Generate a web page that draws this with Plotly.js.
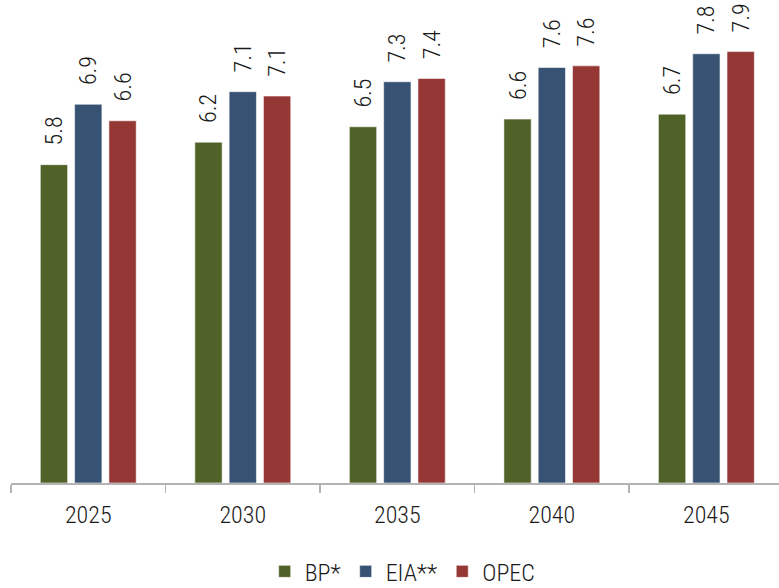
<!DOCTYPE html>
<html>
<head>
<meta charset="utf-8">
<script src="https://cdn.plot.ly/plotly-3.0.1.min.js"></script>
<style>html,body{margin:0;padding:0;background:#fff;}#chart{width:779px;height:588px;}</style>
</head>
<body>
<div id="chart"></div>
<script>
var years = ['2025', '2030', '2035', '2040', '2045'];
var seriesNames = ['BP*', 'EIA**', 'OPEC'];
var bpValues = [5.8, 6.21, 6.49, 6.63, 6.72];
var eiaValues = [6.9, 7.13, 7.31, 7.57, 7.82];
var opecValues = [6.6, 7.05, 7.37, 7.60, 7.86];
var bpLabels = ['5.8', '6.2', '6.5', '6.6', '6.7'];
var eiaLabels = ['6.9', '7.1', '7.3', '7.6', '7.8'];
var opecLabels = ['6.6', '7.1', '7.4', '7.6', '7.9'];

var colors = ['#4F6228', '#375273', '#953735'];
var FONT = 'Roboto Condensed, Roboto, sans-serif';
var FW = 300;
var allValues = [bpValues, eiaValues, opecValues];
var allLabels = [bpLabels, eiaLabels, opecLabels];
var PAD = '\u00a0\u00a0\u00a0';

var traces = allValues.map(function (vals, s) {
  return {
    type: 'bar',
    name: seriesNames[s],
    x: years,
    y: vals,
    text: allLabels[s].map(function (t) { return PAD + t; }),
    textposition: 'outside',
    textangle: -90,
    cliponaxis: false,
    constraintext: 'none',
    outsidetextfont: {family: FONT, size: 24, color: '#1a1a1a', weight: FW},
    marker: {color: colors[s], line: {color: 'rgba(255,255,255,0.55)', width: 1}},
    hoverinfo: 'none'
  };
});

var layout = {
  width: 779,
  height: 588,
  margin: {l: 11, r: 0, t: 0, b: 105, autoexpand: false},
  paper_bgcolor: '#ffffff',
  plot_bgcolor: '#ffffff',
  barmode: 'group',
  bargap: 0.334,
  bargroupgap: 0.204,
  font: {family: FONT, size: 24, color: '#1a1a1a', weight: FW},
  xaxis: {
    type: 'category',
    range: [-0.5, 4.47],
    automargin: false,
    showline: true,
    linecolor: '#b3b3b3',
    linewidth: 1.5,
    ticks: 'outside',
    ticklen: 8,
    tickcolor: '#b3b3b3',
    tickwidth: 1.5,
    tickson: 'boundaries',
    ticklabelstandoff: 10,
    showgrid: false,
    zeroline: false,
    tickfont: {family: FONT, size: 24, color: '#1a1a1a', weight: FW}
  },
  yaxis: {
    range: [0, 8.8],
    visible: false,
    automargin: false,
    showgrid: false,
    zeroline: false
  },
  showlegend: true,
  legend: {
    orientation: 'h',
    x: 0.51,
    xanchor: 'center',
    yref: 'container',
    y: 0.0276,
    yanchor: 'middle',
    font: {family: FONT, size: 24, color: '#1a1a1a', weight: FW},
    itemwidth: 30,
    traceorder: 'normal'
  }
};

Plotly.newPlot('chart', traces, layout, {displayModeBar: false, staticPlot: true});
</script>
</body>
</html>
